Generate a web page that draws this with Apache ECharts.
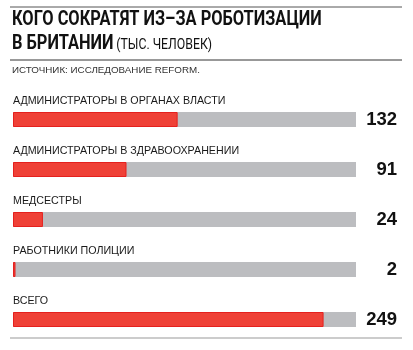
<!DOCTYPE html>
<html>
<head>
<meta charset="utf-8">
<script src="https://cdn.jsdelivr.net/npm/echarts@6/dist/echarts.min.js"></script>
<style>
  html, body { margin: 0; padding: 0; background: #fff; }
  #chart { width: 413px; height: 350px; }
</style>
</head>
<body>
<div id="chart"></div>
<script>
// Job categories and thousands of jobs at risk
const categories = [
  'АДМИНИСТРАТОРЫ В ОРГАНАХ ВЛАСТИ',
  'АДМИНИСТРАТОРЫ В ЗДРАВООХРАНЕНИИ',
  'МЕДСЕСТРЫ',
  'РАБОТНИКИ ПОЛИЦИИ',
  'ВСЕГО'
];
const values = [132, 91, 24, 2, 249];
const axisMax = 275;

const titleFont = 'Roboto, "Liberation Sans", sans-serif';

const chart = echarts.init(document.getElementById('chart'));

chart.setOption({
  animation: false,
  backgroundColor: '#ffffff',
  grid: { left: 13, width: 343, top: 94.5, height: 250 },
  xAxis: {
    type: 'value', min: 0, max: axisMax,
    show: false
  },
  yAxis: [
    {
      type: 'category', data: categories, inverse: true,
      axisLine: { show: false }, axisTick: { show: false }, axisLabel: { show: false }
    },
    {
      type: 'category', position: 'right', inverse: true,
      data: values.map(String),
      axisLine: { show: false }, axisTick: { show: false },
      axisLabel: {
        align: 'right', margin: 41,
        fontFamily: 'Liberation Sans, Arial, sans-serif',
        fontWeight: 'bold', fontSize: 18.5, color: '#111'
      }
    }
  ],
  series: [{
    type: 'bar',
    data: values,
    barWidth: 15,
    showBackground: true,
    backgroundStyle: { color: '#bcbdc0' },
    itemStyle: { color: '#ef4137', borderColor: '#e5201e', borderWidth: 1 },
    label: {
      show: true,
      position: [0, -11],
      verticalAlign: 'middle',
      formatter: '{b}',
      fontFamily: 'Liberation Sans, Arial, sans-serif',
      fontSize: 10.7, color: '#1a1a1a'
    }
  }],
  graphic: [
    { type: 'line', shape: { x1: 10, y1: 7, x2: 402, y2: 7 }, style: { stroke: '#555', lineWidth: 1 } },
    {
      type: 'text', x: 12, y: 20, scaleX: 0.82,
      style: {
        text: 'КОГО СОКРАТЯТ ИЗ–ЗА РОБОТИЗАЦИИ',
        font: 'bold 20px ' + titleFont,
        fill: '#111', verticalAlign: 'middle'
      }
    },
    {
      type: 'text', x: 12, y: 44, scaleX: 0.82,
      style: {
        text: '{b|В БРИТАНИИ} {n|(ТЫС. ЧЕЛОВЕК)}',
        verticalAlign: 'middle',
        rich: {
          b: { font: 'bold 20px ' + titleFont, fill: '#111' },
          n: { font: '15px ' + titleFont, fill: '#111', padding: [2, 0, 0, 0] }
        }
      }
    },
    { type: 'line', shape: { x1: 10, y1: 60, x2: 402, y2: 60 }, style: { stroke: '#333', lineWidth: 1 } },
    {
      type: 'text', left: 12, top: 65,
      style: {
        text: 'ИСТОЧНИК: ИССЛЕДОВАНИЕ REFORM.',
        font: '9.8px "Liberation Sans", Arial, sans-serif',
        fill: '#333'
      }
    },
    { type: 'line', shape: { x1: 10, y1: 338, x2: 402, y2: 338 }, style: { stroke: '#999', lineWidth: 1 } }
  ]
});
</script>
</body>
</html>
